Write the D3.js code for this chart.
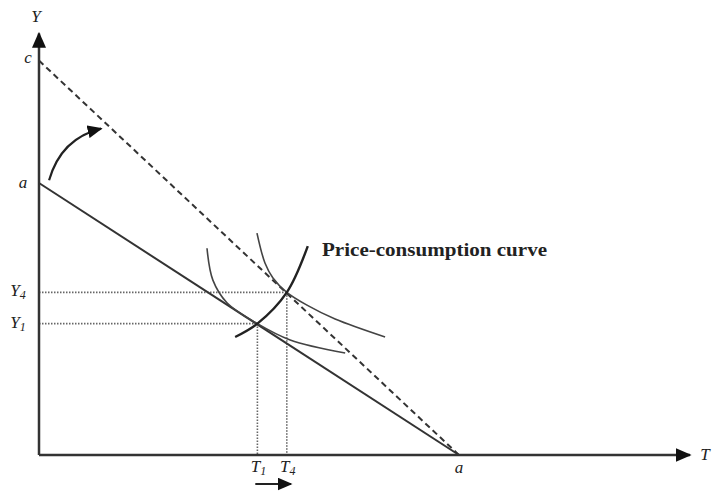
<!DOCTYPE html>
<html>
<head>
<meta charset="utf-8">
<script src="https://cdn.jsdelivr.net/npm/d3@7"></script>
<style>
  body { margin: 0; background: #fff; }
  text { font-family: "Liberation Serif", "DejaVu Serif", serif; fill: #222; }
</style>
</head>
<body>
<div class="chart"></div>
<script>
var svgWidth = 715;
var svgHeight = 494;

// budget lines (intercepts, in goods units)
var interceptA = 100;      // a on both axes
var interceptC = 145;      // c on Y axis after price fall
var axisMax = 155;

// equilibrium points
var tValues = [52, 59];        // T1, T4
var yValues = [48.3, 59.8];    // Y1, Y4
var tLabels = ["1", "4"];
var yLabels = ["1", "4"];

// indifference curves (T, Y)
var indiff1 = [[40, 76], [41.4, 64.3], [44.8, 55.9], [52, 48.3], [59.8, 42.3], [72.9, 37.5]];
var indiff2 = [[51.9, 81.6], [53.8, 70.6], [55.7, 65.1], [59, 59.8], [63.8, 55.1], [70.5, 50], [82.4, 43.4]];

// price-consumption curve
var pcc = [[46.7, 43.4], [52, 48.3], [59, 59.8], [64, 76.8]];

var x = d3.scaleLinear().domain([0, 100]).range([39, 459]);
var y = d3.scaleLinear().domain([0, 100]).range([455, 183]);

var svg = d3.select(".chart")
  .append("svg")
  .attr("width", svgWidth)
  .attr("height", svgHeight);

var defs = svg.append("defs");
defs.append("marker")
  .attr("id", "head")
  .attr("viewBox", "0 0 10 10")
  .attr("refX", 9).attr("refY", 5)
  .attr("markerWidth", 15).attr("markerHeight", 13)
  .attr("markerUnits", "userSpaceOnUse")
  .attr("orient", "auto")
  .attr("preserveAspectRatio", "none")
  .append("path")
  .attr("d", "M0,0 L10,5 L0,10 Z")
  .attr("fill", "#111");

defs.append("marker")
  .attr("id", "bighead")
  .attr("viewBox", "0 0 10 10")
  .attr("refX", 9).attr("refY", 5)
  .attr("markerWidth", 16).attr("markerHeight", 14)
  .attr("markerUnits", "userSpaceOnUse")
  .attr("orient", "auto")
  .attr("preserveAspectRatio", "none")
  .append("path")
  .attr("d", "M0,0 L10,5 L0,10 Z")
  .attr("fill", "#111");

var line = d3.line()
  .x(d => x(d[0]))
  .y(d => y(d[1]))
  .curve(d3.curveCatmullRom.alpha(0.5));

// dotted guide lines
var guides = svg.append("g")
  .attr("stroke", "#666")
  .attr("stroke-width", 1.6)
  .attr("stroke-dasharray", "1.5,1.5")
  .attr("fill", "none");

tValues.forEach(function(t, i) {
  guides.append("line")
    .attr("x1", x(0)).attr("y1", y(yValues[i]))
    .attr("x2", x(t)).attr("y2", y(yValues[i]));
  guides.append("line")
    .attr("x1", x(t)).attr("y1", y(yValues[i]))
    .attr("x2", x(t)).attr("y2", y(0));
});

// axes
svg.append("line")
  .attr("x1", x(0)).attr("y1", y(0))
  .attr("x2", x(axisMax)).attr("y2", y(0))
  .attr("stroke", "#333").attr("stroke-width", 2.5)
  .attr("marker-end", "url(#bighead)");

svg.append("line")
  .attr("x1", x(0)).attr("y1", y(0))
  .attr("x2", x(0)).attr("y2", y(axisMax))
  .attr("stroke", "#333").attr("stroke-width", 2.5)
  .attr("marker-end", "url(#bighead)");

// budget lines
svg.append("line")
  .attr("x1", x(0)).attr("y1", y(interceptA))
  .attr("x2", x(interceptA)).attr("y2", y(0))
  .attr("stroke", "#333").attr("stroke-width", 2);

svg.append("line")
  .attr("x1", x(0)).attr("y1", y(interceptC))
  .attr("x2", x(interceptA)).attr("y2", y(0))
  .attr("stroke", "#333").attr("stroke-width", 2)
  .attr("stroke-dasharray", "6,4");

// indifference curves and price-consumption curve
[indiff1, indiff2].forEach(function(c) {
  svg.append("path")
    .attr("d", line(c))
    .attr("fill", "none")
    .attr("stroke", "#444")
    .attr("stroke-width", 1.6);
});

svg.append("path")
  .attr("d", line(pcc))
  .attr("fill", "none")
  .attr("stroke", "#222")
  .attr("stroke-width", 2.4);

// rotation arrow
var ax0 = x(2.4), ay0 = y(101);
svg.append("path")
  .attr("d", `M${ax0},${ay0} Q${ax0 + 12},${ay0 - 42} ${x(14.8)},${y(120)}`)
  .attr("fill", "none")
  .attr("stroke", "#222")
  .attr("stroke-width", 2.2)
  .attr("marker-end", "url(#head)");

// small shift arrow under T labels
svg.append("line")
  .attr("x1", x(51.5)).attr("y1", 484)
  .attr("x2", x(60)).attr("y2", 484)
  .attr("stroke", "#222").attr("stroke-width", 2)
  .attr("marker-end", "url(#head)");

// labels
function label(px, py, main, sub, anchor) {
  var t = svg.append("text")
    .attr("x", px).attr("y", py)
    .attr("font-size", 17)
    .attr("font-style", "italic")
    .attr("text-anchor", anchor || "middle")
    .text(main);
  if (sub) {
    t.append("tspan")
      .attr("font-size", 12)
      .attr("dy", 3)
      .text(sub);
  }
}

label(x(0) - 3, 22, "Y");
label(x(0) - 11, y(interceptC) + 2, "c");
label(x(0) - 16, y(interceptA) + 5, "a");
yValues.forEach(function(v, i) {
  label(x(0) - 21, y(v) + 4, "Y", yLabels[i]);
});
tValues.forEach(function(v, i) {
  label(x(v) + 1, 472, "T", tLabels[i]);
});
label(x(interceptA), 473, "a");
label(x(axisMax) + 15, y(0) + 5, "T");

svg.append("text")
  .attr("x", 322).attr("y", 256)
  .attr("font-size", 18)
  .attr("font-weight", "bold")
  .attr("fill", "#444")
  .attr("textLength", 225)
  .attr("lengthAdjust", "spacingAndGlyphs")
  .text("Price-consumption curve");
</script>
</body>
</html>
